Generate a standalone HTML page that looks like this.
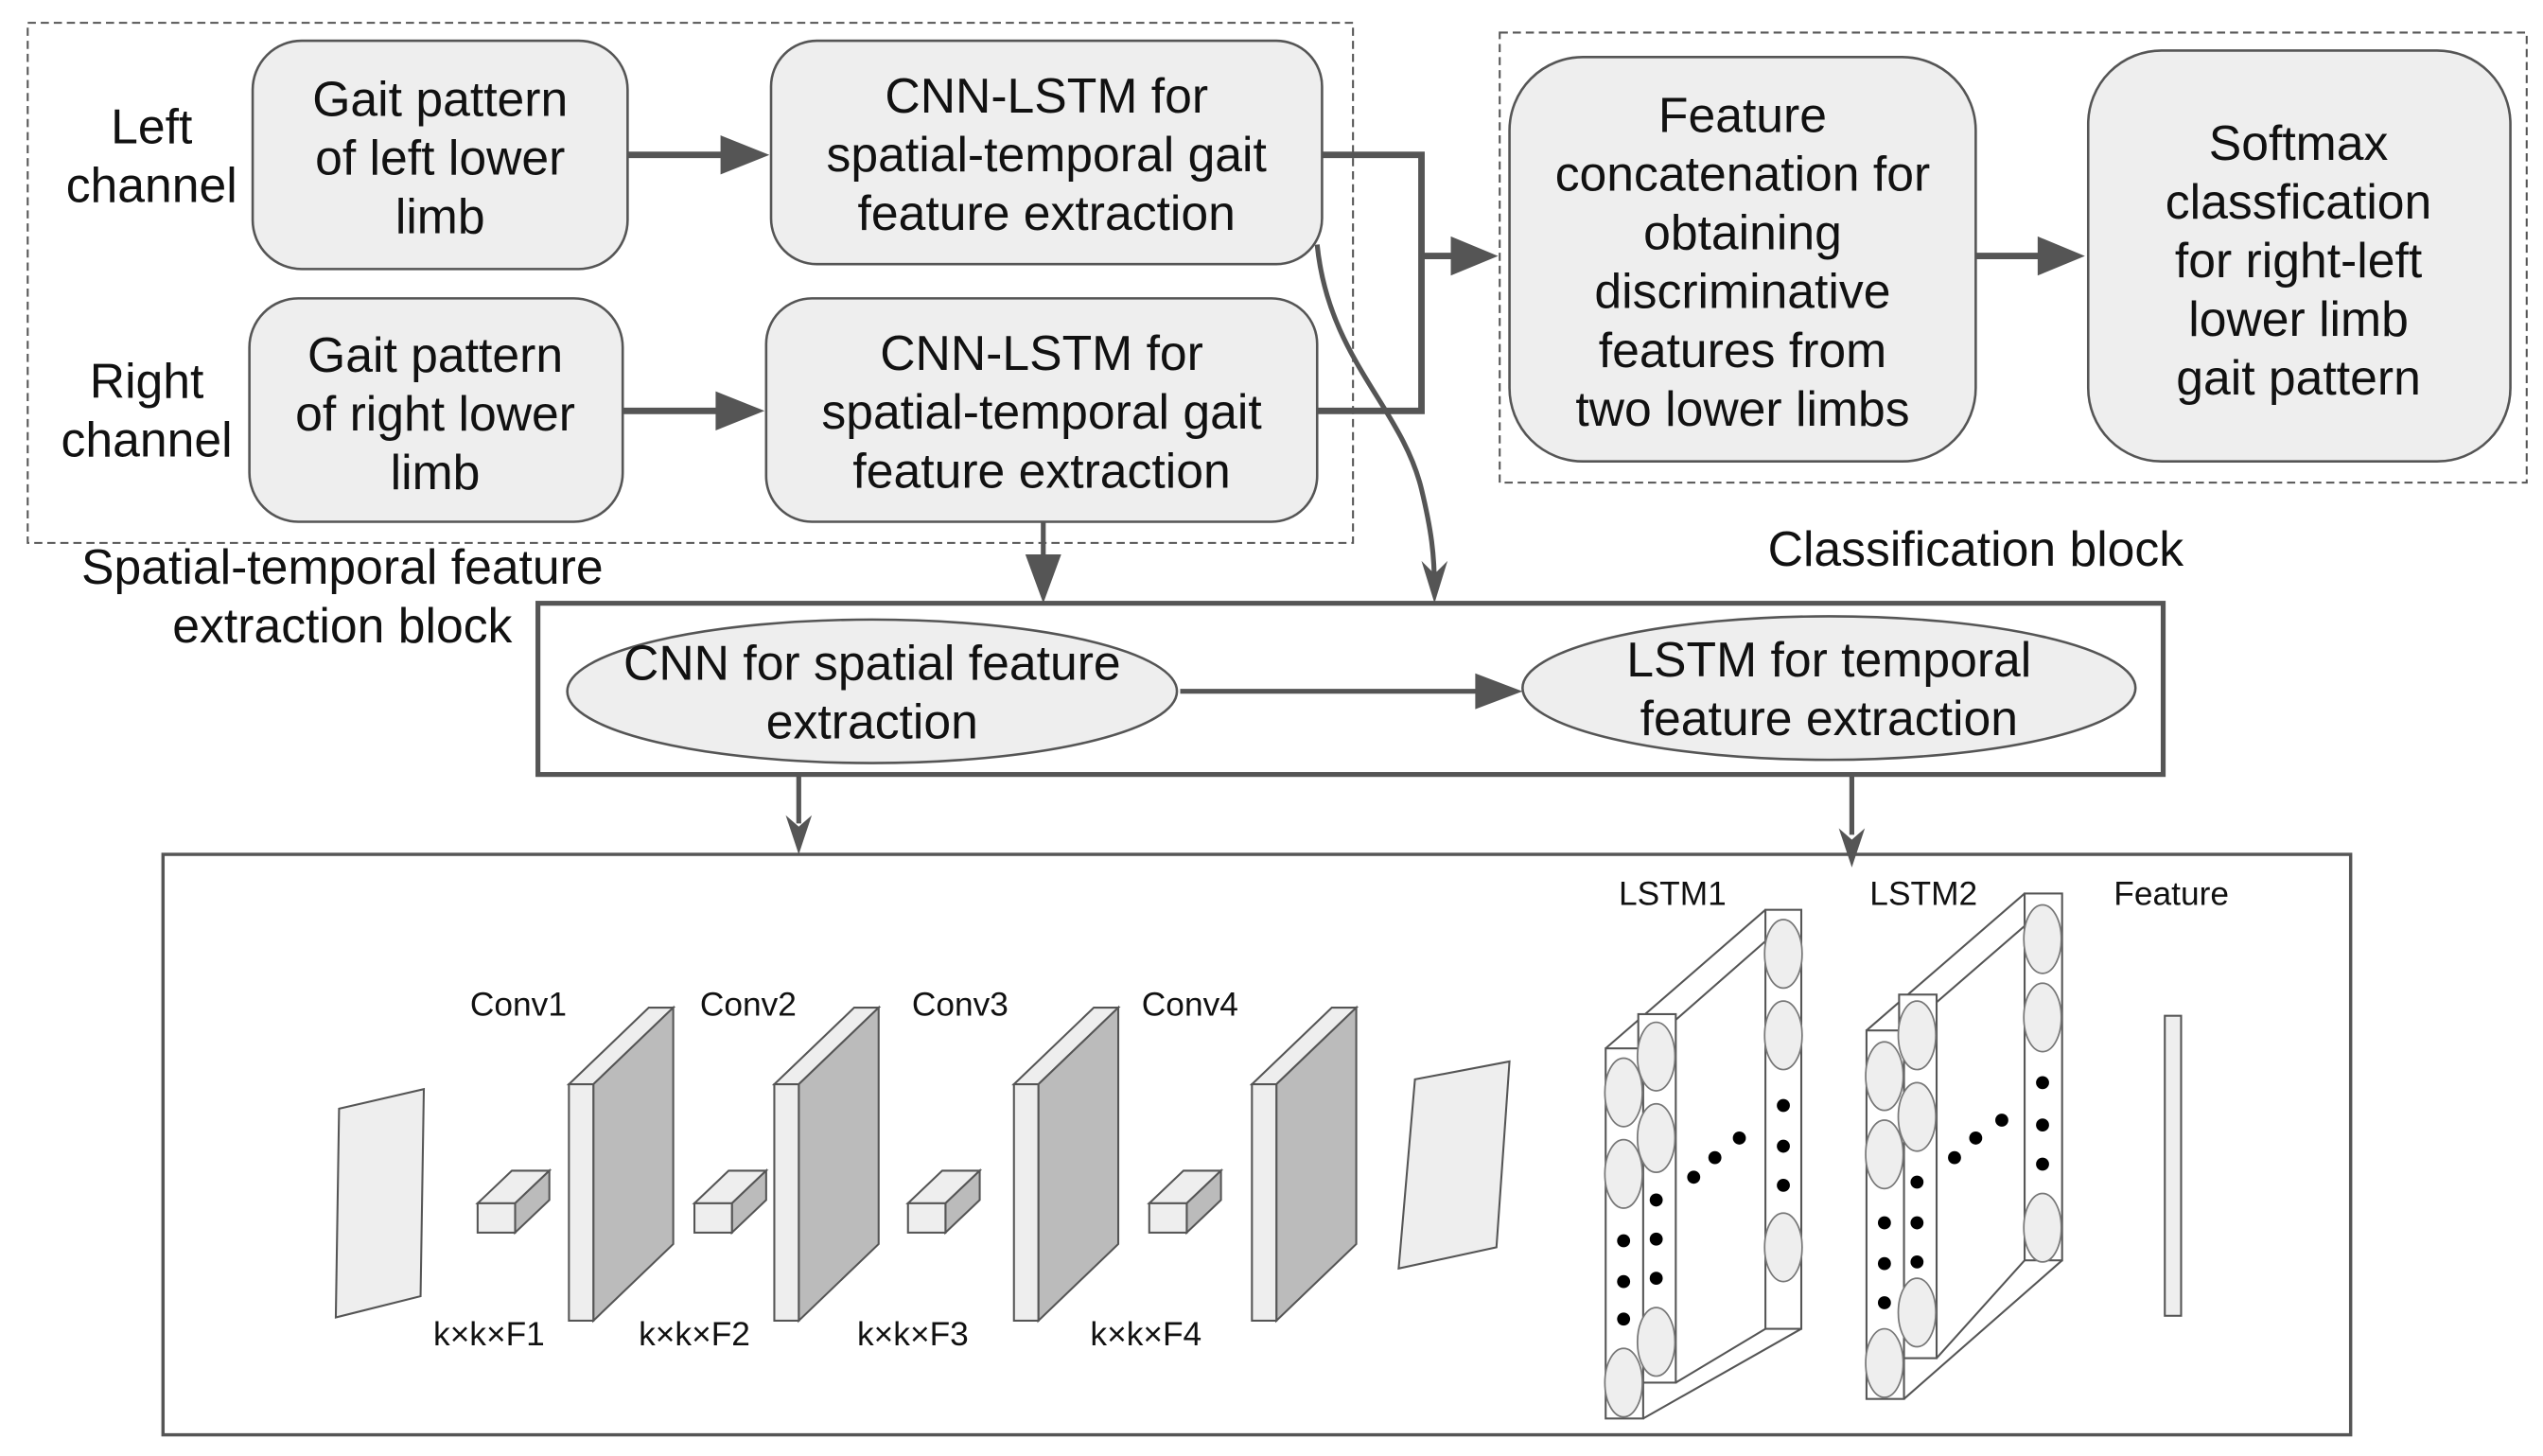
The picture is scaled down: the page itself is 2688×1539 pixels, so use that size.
<!DOCTYPE html>
<html><head><meta charset="utf-8"><style>
html,body{margin:0;padding:0;background:#fff;}
svg{display:block;}
text{font-family:"Liberation Sans",Arial,sans-serif;fill:#111;}
</style></head><body>
<svg width="2688" height="1539" viewBox="0 0 1560 893" preserveAspectRatio="none" xmlns="http://www.w3.org/2000/svg">
<!-- dashed blocks -->
<rect x="17" y="14" width="813" height="319" fill="none" stroke="#555" stroke-width="1.2" stroke-dasharray="5,3"/>
<rect x="920" y="20" width="630" height="276" fill="none" stroke="#555" stroke-width="1.2" stroke-dasharray="5,3"/>
<g fill="#eeeeee" stroke="#555" stroke-width="1.5">
<rect x="155" y="25" width="230" height="140" rx="30"/>
<rect x="473" y="25" width="338" height="137" rx="28"/>
<rect x="153" y="183" width="229" height="137" rx="30"/>
<rect x="470" y="183" width="338" height="137" rx="28"/>
<rect x="926" y="35" width="286" height="248" rx="45"/>
<rect x="1281" y="31" width="259" height="252" rx="45"/>
</g>
<g font-size="30" text-anchor="middle">
<text x="93" y="88">Left</text><text x="93" y="124">channel</text>
<text x="90" y="244">Right</text><text x="90" y="280">channel</text>
<text x="270" y="71">Gait pattern</text><text x="270" y="107">of left lower</text><text x="270" y="143">limb</text>
<text x="642" y="69">CNN-LSTM for</text><text x="642" y="105">spatial-temporal gait</text><text x="642" y="141">feature extraction</text>
<text x="267" y="228">Gait pattern</text><text x="267" y="264">of right lower</text><text x="267" y="300">limb</text>
<text x="639" y="227">CNN-LSTM for</text><text x="639" y="263">spatial-temporal gait</text><text x="639" y="299">feature extraction</text>
<text x="1069" y="81">Feature</text><text x="1069" y="117">concatenation for</text><text x="1069" y="153">obtaining</text><text x="1069" y="189">discriminative</text><text x="1069" y="225">features from</text><text x="1069" y="261">two lower limbs</text>
<text x="1410" y="98">Softmax</text><text x="1410" y="134">classfication</text><text x="1410" y="170">for right-left</text><text x="1410" y="206">lower limb</text><text x="1410" y="242">gait pattern</text>
<text x="1212" y="347">Classification block</text>
<text x="210" y="358">Spatial-temporal feature</text><text x="210" y="394">extraction block</text>
</g>
<!-- arrows -->
<g stroke="#555" stroke-width="4" fill="none">
<line x1="385" y1="95" x2="448" y2="95"/>
<polygon points="442,83 472,95 442,107" fill="#555" stroke="none"/>
<line x1="382" y1="252" x2="445" y2="252"/>
<polygon points="439,240 469,252 439,264" fill="#555" stroke="none"/>
<polyline points="811,95 872,95 872,252 808,252"/>
<line x1="872" y1="157" x2="895" y2="157"/>
<polygon points="890,145 919,157 890,169" fill="#555" stroke="none"/>
<line x1="1212" y1="157" x2="1255" y2="157"/>
<polygon points="1250,145 1279,157 1250,169" fill="#555" stroke="none"/>
</g>
<g stroke="#555" stroke-width="3" fill="none">
<line x1="640" y1="320" x2="640" y2="345"/>
<path d="M808,150 C815,220 860,250 872,300 C878,325 880,340 880,362"/>
<line x1="724" y1="424" x2="910" y2="424"/>
<line x1="490" y1="475" x2="490" y2="505"/>
<line x1="1136" y1="475" x2="1136" y2="512"/>
</g>
<polygon points="629,340 640,370 651,340" fill="#555"/>
<polygon points="872,344 880,370 888,344 880,352" fill="#555"/>
<polygon points="905,413 934,424 905,435" fill="#555"/>
<polygon points="482,500 490,524 498,500 490,507" fill="#555"/>
<polygon points="1128,508 1136,532 1144,508 1136,515" fill="#555"/>
<!-- CNN-LSTM block -->
<rect x="330" y="370" width="997" height="105" fill="none" stroke="#555" stroke-width="3"/>
<ellipse cx="535" cy="424" rx="187" ry="44" fill="#eeeeee" stroke="#555" stroke-width="1.5"/>
<ellipse cx="1122" cy="422" rx="188" ry="44" fill="#eeeeee" stroke="#555" stroke-width="1.5"/>
<g font-size="30" text-anchor="middle">
<text x="535" y="417">CNN for spatial feature</text><text x="535" y="453">extraction</text>
<text x="1122" y="415">LSTM for temporal</text><text x="1122" y="451">feature extraction</text>
</g>
<!-- bottom box -->
<rect x="100" y="524" width="1342" height="356" fill="none" stroke="#555" stroke-width="2"/>
<g stroke="#555" stroke-width="1.2">
<polygon points="208,680 260,668 258,795 206,808" fill="#eeeeee"/>
<polygon points="868,662 926,651 918,765 858,778" fill="#eeeeee"/>
<g id="slab">
<polygon points="349,665 364,665 413,618 398,618" fill="#eeeeee"/>
<polygon points="364,665 413,618 413,763 364,810" fill="#bbbbbb"/>
<rect x="349" y="665" width="15" height="145" fill="#eeeeee"/>
</g>
<use href="#slab" x="126"/><use href="#slab" x="273"/><use href="#slab" x="419"/>
<g id="cube">
<polygon points="293,738 316,738 337,718 314,718" fill="#eeeeee"/>
<polygon points="316,738 337,718 337,736 316,756" fill="#bbbbbb"/>
<rect x="293" y="738" width="23" height="18" fill="#eeeeee"/>
</g>
<use href="#cube" x="133"/><use href="#cube" x="264"/><use href="#cube" x="412"/>
<rect x="1328" y="623" width="10" height="184" fill="#eeeeee"/>
</g>
<g font-size="20.5" text-anchor="middle">
<text x="318" y="623">Conv1</text><text x="459" y="623">Conv2</text><text x="589" y="623">Conv3</text><text x="730" y="623">Conv4</text>
<text x="300" y="825">k×k×F1</text><text x="426" y="825">k×k×F2</text><text x="560" y="825">k×k×F3</text><text x="703" y="825">k×k×F4</text>
<text x="1026" y="555">LSTM1</text><text x="1180" y="555">LSTM2</text><text x="1332" y="555">Feature</text>
</g>
<g stroke="#555" stroke-width="1.2" fill="none">
<line x1="985" y1="643" x2="1083" y2="558"/><line x1="1008" y1="643" x2="1105" y2="558"/>
<line x1="1008" y1="870" x2="1105" y2="815"/><line x1="1028" y1="848" x2="1083" y2="815"/>
<rect x="1083" y="558" width="22" height="257" fill="#fff"/>
<rect x="1005" y="622" width="23" height="226" fill="#fff"/>
<rect x="985" y="643" width="23" height="227" fill="#fff"/>
<line x1="1145" y1="632" x2="1242" y2="548"/><line x1="1168" y1="632" x2="1265" y2="548"/>
<line x1="1168" y1="858" x2="1265" y2="773"/><line x1="1188" y1="833" x2="1242" y2="773"/>
<rect x="1242" y="548" width="23" height="225" fill="#fff"/>
<rect x="1165" y="610" width="23" height="223" fill="#fff"/>
<rect x="1145" y="632" width="23" height="226" fill="#fff"/>
</g>
<g fill="#eeeeee" stroke="#777" stroke-width="1">
<ellipse cx="1094" cy="585" rx="11.5" ry="21"/><ellipse cx="1094" cy="635" rx="11.5" ry="21"/><ellipse cx="1094" cy="765" rx="11.5" ry="21"/>
<ellipse cx="1016" cy="648" rx="11.5" ry="21"/><ellipse cx="1016" cy="698" rx="11.5" ry="21"/><ellipse cx="1016" cy="823" rx="11.5" ry="21"/>
<ellipse cx="996" cy="670" rx="11.5" ry="21"/><ellipse cx="996" cy="720" rx="11.5" ry="21"/><ellipse cx="996" cy="848" rx="11.5" ry="21"/>
<ellipse cx="1253" cy="576" rx="11.5" ry="21"/><ellipse cx="1253" cy="624" rx="11.5" ry="21"/><ellipse cx="1253" cy="753" rx="11.5" ry="21"/>
<ellipse cx="1176" cy="635" rx="11.5" ry="21"/><ellipse cx="1176" cy="685" rx="11.5" ry="21"/><ellipse cx="1176" cy="805" rx="11.5" ry="21"/>
<ellipse cx="1156" cy="660" rx="11.5" ry="21"/><ellipse cx="1156" cy="708" rx="11.5" ry="21"/><ellipse cx="1156" cy="836" rx="11.5" ry="21"/>
</g>
<g fill="#000">
<circle cx="1094" cy="678" r="4"/><circle cx="1094" cy="703" r="4"/><circle cx="1094" cy="727" r="4"/>
<circle cx="1016" cy="736" r="4"/><circle cx="1016" cy="760" r="4"/><circle cx="1016" cy="784" r="4"/>
<circle cx="996" cy="761" r="4"/><circle cx="996" cy="786" r="4"/><circle cx="996" cy="809" r="4"/>
<circle cx="1039" cy="722" r="4"/><circle cx="1052" cy="710" r="4"/><circle cx="1067" cy="698" r="4"/>
<circle cx="1253" cy="664" r="4"/><circle cx="1253" cy="690" r="4"/><circle cx="1253" cy="714" r="4"/>
<circle cx="1176" cy="725" r="4"/><circle cx="1176" cy="750" r="4"/><circle cx="1176" cy="774" r="4"/>
<circle cx="1156" cy="750" r="4"/><circle cx="1156" cy="775" r="4"/><circle cx="1156" cy="799" r="4"/>
<circle cx="1199" cy="710" r="4"/><circle cx="1212" cy="698" r="4"/><circle cx="1228" cy="687" r="4"/>
</g>
</svg>
</body></html>
